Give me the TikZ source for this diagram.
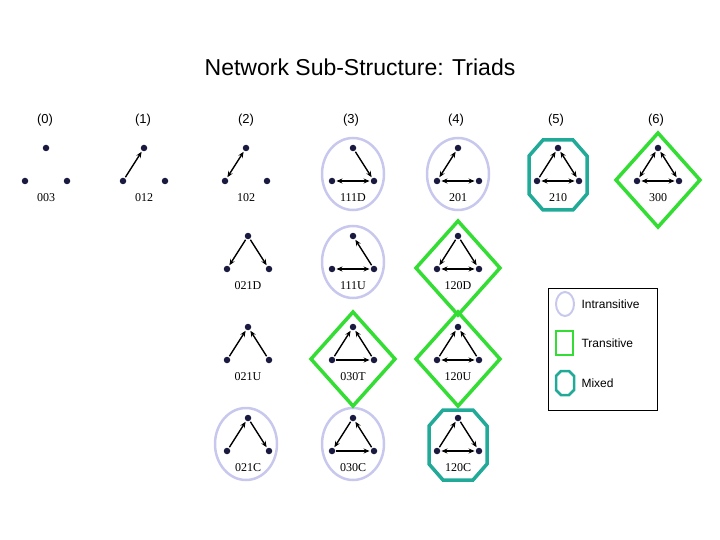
\documentclass[tikz,border=0pt]{standalone}
\usepackage{fontspec}
\setmainfont{Liberation Serif}
\newfontfamily\sans{Liberation Sans}
\usetikzlibrary{arrows.meta}
\definecolor{lav}{HTML}{C8C8EE}
\definecolor{grn}{HTML}{33DD33}
\definecolor{tea}{HTML}{22AA99}
\definecolor{dotc}{HTML}{1A1A40}
\tikzset{
 dot/.style={circle,fill=dotc,inner sep=0pt,minimum size=6.5pt},
 e/.style={line width=1.4pt,-{Stealth[length=6pt,width=5pt]},shorten >=1pt,shorten <=1pt},
 b/.style={line width=1.4pt,{Stealth[length=6pt,width=5pt]}-{Stealth[length=6pt,width=5pt]},shorten >=1pt,shorten <=1pt},
 lab/.style={font=\fontsize{12}{12}\selectfont},
 hdr/.style={font=\sans\fontsize{13}{13}\selectfont},
 intr/.style={draw=lav,line width=2.5pt},
 tran/.style={draw=grn,line width=3.5pt},
 mix/.style={draw=tea,line width=3.5pt}
}
% \tri{id}{cx}{ytop}{label}
\newcommand{\tri}[4]{%
 \node[dot] (#1t) at (#2,#3) {};
 \node[dot] (#1l) at ({#2-21},{#3+33}) {};
 \node[dot] (#1r) at ({#2+21},{#3+33}) {};
 \node[lab] (#1n) at (#2,{#3+50}) {#4};}
\newcommand{\ringE}[2]{\draw[intr] (#1,{#2+26}) ellipse [x radius=31,y radius=36];}
\newcommand{\ringD}[2]{\draw[tran] (#1,{#2-15}) -- ({#1+42},{#2+32}) -- (#1,{#2+79}) -- ({#1-42},{#2+32}) -- cycle;}
\newcommand{\ringO}[2]{\draw[mix] ({#1-15},{#2-8}) -- ({#1+15},{#2-8}) -- ({#1+29},{#2+8}) -- ({#1+29},{#2+46}) -- ({#1+15},{#2+62}) -- ({#1-15},{#2+62}) -- ({#1-29},{#2+46}) -- ({#1-29},{#2+8}) -- cycle;}
\begin{document}
\begin{tikzpicture}[x=1pt,y=-1pt]
\useasboundingbox (0,0) rectangle (720,540);
\node[font=\sans\fontsize{23}{23}\selectfont] (title) at (360,67) {Network Sub-Structure: Triads};
\foreach \i/\x in {0/45,1/143,2/246,3/351,4/456,5/556,6/656}
 \node[hdr] (h\i) at (\x,120) {(\i)};
% shapes
\ringE{353}{148}\ringE{458}{148}\ringE{353}{236}\ringE{246}{418}\ringE{353}{418}
\ringO{558}{148}\ringO{458}{418}
\ringD{658}{148}\ringD{458}{236}\ringD{353}{327}\ringD{458}{327}
% row 1
\tri{a}{46}{148}{003}
\tri{b}{144}{148}{012} \draw[e] (bl)--(bt);
\tri{c}{246}{148}{102} \draw[b] (cl)--(ct);
\tri{d}{353}{148}{111D} \draw[e] (dt)--(dr); \draw[b] (dl)--(dr);
\tri{f}{458}{148}{201} \draw[b] (fl)--(ft); \draw[b] (fl)--(fr);
\tri{g}{558}{148}{210} \draw[e] (gl)--(gt); \draw[b] (gt)--(gr); \draw[b] (gl)--(gr);
\tri{h}{658}{148}{300} \draw[b] (hl)--(ht); \draw[b] (ht)--(hr); \draw[b] (hl)--(hr);
% row 2
\tri{i}{248}{236}{021D} \draw[e] (it)--(il); \draw[e] (it)--(ir);
\tri{j}{353}{236}{111U} \draw[e] (jr)--(jt); \draw[b] (jl)--(jr);
\tri{k}{458}{236}{120D} \draw[e] (kt)--(kl); \draw[e] (kt)--(kr); \draw[b] (kl)--(kr);
% row 3
\tri{m}{248}{327}{021U} \draw[e] (ml)--(mt); \draw[e] (mr)--(mt);
\tri{n}{353}{327}{030T} \draw[e] (nl)--(nt); \draw[e] (nr)--(nt); \draw[e] (nl)--(nr);
\tri{o}{458}{327}{120U} \draw[e] (ol)--(ot); \draw[e] (or)--(ot); \draw[b] (ol)--(or);
% row 4
\tri{p}{248}{418}{021C} \draw[e] (pl)--(pt); \draw[e] (pt)--(pr);
\tri{q}{353}{418}{030C} \draw[e] (qt)--(ql); \draw[e] (qr)--(qt); \draw[e] (ql)--(qr);
\tri{s}{458}{418}{120C} \draw[e] (sl)--(st); \draw[e] (st)--(sr); \draw[b] (sl)--(sr);
% legend
\draw[line width=0.6pt] (548,288) rectangle (657,410);
\draw[draw=lav,line width=2pt] (565,304) ellipse [x radius=9,y radius=12];
\draw[draw=grn,line width=2.5pt] (556,331) rectangle (573,355);
\draw[draw=tea,line width=2.5pt] (561,371)--(569,371)--(574,376)--(574,390)--(569,395)--(561,395)--(556,390)--(556,376)--cycle;
\node[font=\sans\fontsize{12}{12}\selectfont,anchor=west] (l1) at (578,304) {Intransitive};
\node[font=\sans\fontsize{12}{12}\selectfont,anchor=west] (l2) at (578,343) {Transitive};
\node[font=\sans\fontsize{12}{12}\selectfont,anchor=west] (l3) at (578,383) {Mixed};
\end{tikzpicture}
\end{document}
